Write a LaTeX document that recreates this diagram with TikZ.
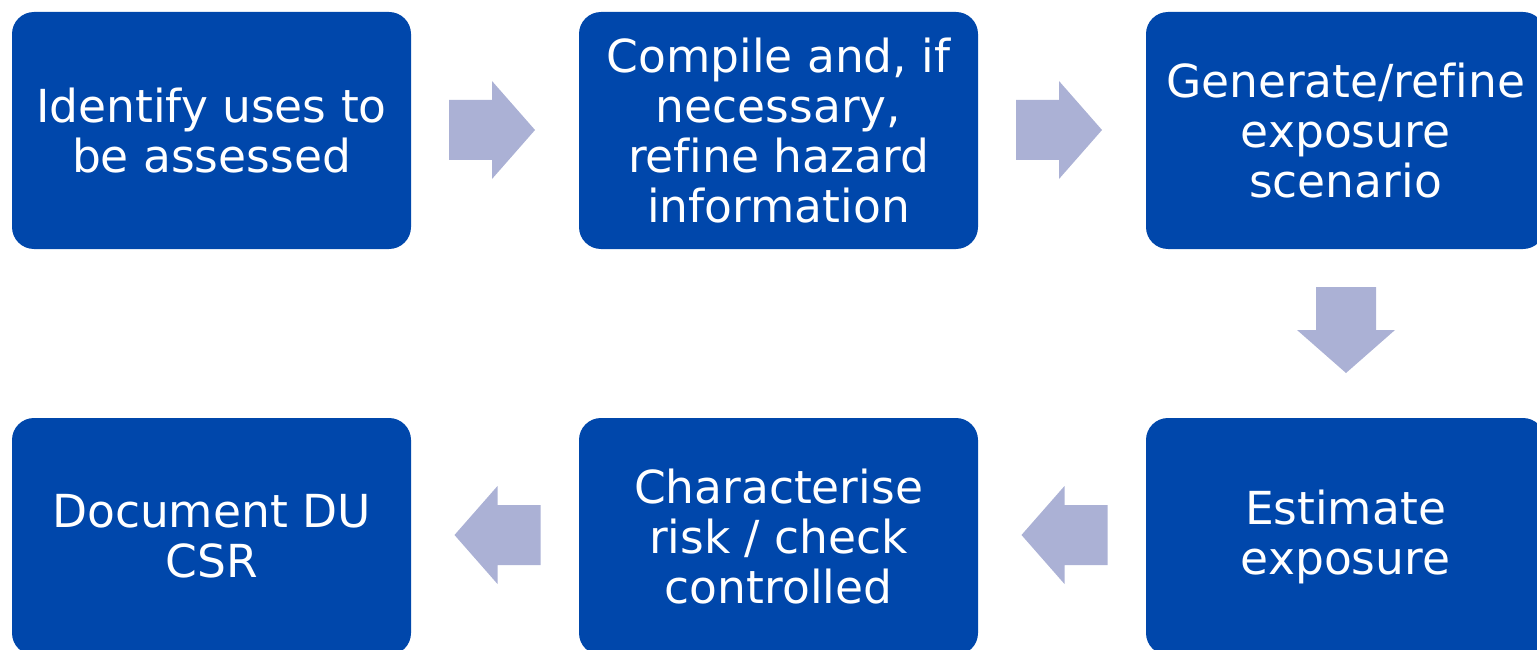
\documentclass[tikz,border=0pt]{standalone}
\usepackage{fontspec}
\setmainfont[Ligatures=NoCommon]{DejaVu Sans}
\definecolor{boxblue}{RGB}{0,71,171}
\definecolor{arrowfill}{RGB}{171,177,213}
\tikzset{
  stepbox/.style={fill=boxblue, rounded corners=22pt, minimum width=399pt, minimum height=237pt,
    text=white, align=center, inner sep=0pt, font=\fontsize{45.5}{50}\selectfont},
  blockarrow/.pic={\fill[arrowfill] (-43,-30) -- (0,-30) -- (0,-49) -- (43,0) -- (0,49) -- (0,30) -- (-43,30) -- cycle;}
}
\begin{document}
\begin{tikzpicture}[x=1pt,y=-1pt]
\useasboundingbox (0,0) rectangle (1537,650);
\clip (0,0) rectangle (1537,650);
\node[stepbox] (b1) at (211.5,130.5) {Identify uses to\\be assessed};
\node[stepbox] (b2) at (778.5,130.5) {Compile and, if\\necessary,\\refine hazard\\information};
\node[stepbox] (b3) at (1345.5,130.5) {Generate/refine\\exposure\\scenario};
\node[stepbox] (b4) at (1345.5,536.5) {Estimate\\exposure};
\node[stepbox] (b5) at (778.5,536.5) {Characterise\\risk / check\\controlled};
\node[stepbox] (b6) at (211.5,536.5) {Document DU\\CSR};
\pic at (492,130) {blockarrow};
\pic at (1059,130) {blockarrow};
\pic[rotate=-90] at (1346,330) {blockarrow};
\pic[rotate=180] at (1064.5,535) {blockarrow};
\pic[rotate=180] at (497.5,535) {blockarrow};
\end{tikzpicture}
\end{document}
